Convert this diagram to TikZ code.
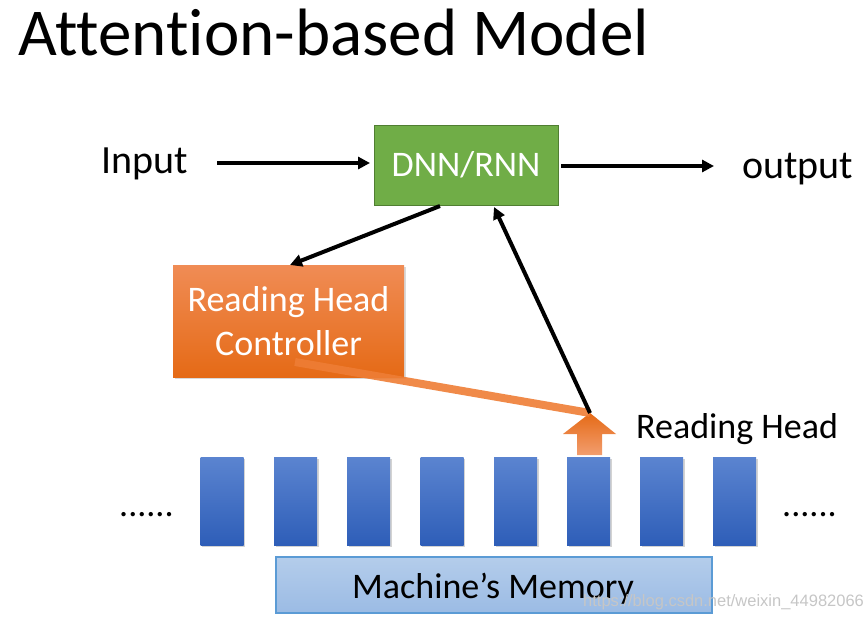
\documentclass[tikz,border=0pt]{standalone}
\usepackage{fontspec}
\setmainfont{Carlito}[Ligatures=NoCommon]
\newfontfamily\wmfont{Liberation Sans}
\usetikzlibrary{arrows.meta,shadows}
\definecolor{dnngreen}{HTML}{70AD47}
\definecolor{dnnborder}{HTML}{507E32}
\definecolor{ortop}{HTML}{F08C55}
\definecolor{orbot}{HTML}{E56A16}
\definecolor{orline}{HTML}{EE7D35}
\definecolor{celltop}{HTML}{5B84D0}
\definecolor{cellbot}{HTML}{2E5EB8}
\definecolor{memtop}{HTML}{B4CDEB}
\definecolor{membot}{HTML}{9BBBE4}
\definecolor{memborder}{HTML}{5B9BD5}
\tikzset{
  conn/.style={line width=4pt,-{Triangle[length=12pt,width=12pt]}},
  cellbox/.style={top color=celltop,bottom color=cellbot,draw=none,
    drop shadow={shadow xshift=1.5pt,shadow yshift=-1.5pt,opacity=0.35}},
  lbl/.style={font=\fontsize{40}{48}\selectfont,anchor=base west,inner sep=0pt},
}
\begin{document}
\begin{tikzpicture}[x=1pt,y=-1pt]
\useasboundingbox (0,0) rectangle (866,618);
% title
\node[anchor=base west,inner sep=0pt,font=\fontsize{67}{72}\selectfont] (title) at (18,56) {Attention-based Model};
% input / output
\node[lbl] (in) at (101,173) {Input};
\node[lbl] (out) at (742,178) {output};
\node[draw=dnnborder,fill=dnngreen,line width=1pt,minimum width=184pt,minimum height=80pt,
  text=white,font=\fontsize{36}{40}\selectfont,inner sep=0pt] (dnn) at (466,165) {DNN/RNN};
\coordinate (inA) at (217,163);
\coordinate (inB) at (370,163);
\coordinate (outA) at (561,166);
\coordinate (outB) at (714,166);
\draw[conn] (inA) -- (inB);
\draw[conn] (outA) -- (outB);
% controller
\node[top color=ortop,bottom color=orbot,draw=none,minimum width=231pt,minimum height=112pt,
  text=white,font=\fontsize{36}{44}\selectfont,align=center,inner sep=0pt,
  drop shadow={shadow xshift=2pt,shadow yshift=-2pt,opacity=0.3}] (ctrl) at (288.5,321) {Reading Head\\Controller};
% memory cells
\foreach \i/\x in {1/222,2/295.5,3/368.5,4/442,5/515.5,6/588.5,7/661.5,8/734.5}{
  \node[cellbox,minimum width=43pt,minimum height=88pt,inner sep=0pt] (c\i) at (\x,501) {};
}
\node[draw=memborder,line width=1.2pt,top color=memtop,bottom color=membot,minimum width=436pt,
  minimum height=56pt,inner sep=0pt] (mem) at (494,585) {};
\node[anchor=base,inner sep=0pt,font=\fontsize{36}{40}\selectfont] (memtxt) at (493,598) {Machine’s Memory};
% dots
\node[anchor=base west,inner sep=0pt,font=\fontsize{36}{40}\selectfont] (dl) at (119,516) {......};
\node[anchor=base west,inner sep=0pt,font=\fontsize{36}{40}\selectfont] (dr) at (782,516) {......};
% reading head arrow
\coordinate (tip) at (590,413);
\shade[top color=orbot,bottom color=ortop!85!white]
  (tip) -- (616,434) -- (602,434) -- (602,455) -- (577,455) -- (577,434) -- (563,434) -- cycle;
\node[anchor=base west,inner sep=0pt,font=\fontsize{36}{40}\selectfont] (rh) at (636,438) {Reading Head};
% orange line controller -> head
\coordinate (cstart) at (295,362);
\draw[orline,line width=8pt,opacity=0.9] (cstart) -- (tip);
% black arrows
\coordinate (dnnbot) at (440,206);
\coordinate (ctop) at (290,265);
\coordinate (dnnin) at (494,207);
\draw[conn] (dnnbot) -- (ctop);
\draw[conn] (tip) -- (dnnin);
% watermark
\node[anchor=base west,inner sep=0pt,text=gray!45,font=\wmfont\fontsize{16.5}{18}\selectfont] (wm) at (583,606) {https://blog.csdn.net/weixin\_44982066};
\end{tikzpicture}
\end{document}
